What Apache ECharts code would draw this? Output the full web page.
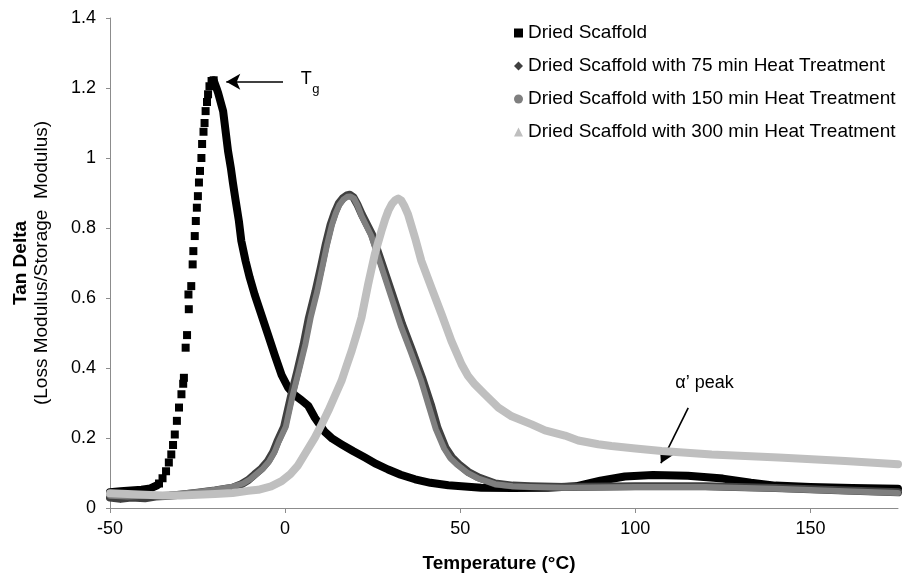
<!DOCTYPE html>
<html><head><meta charset="utf-8">
<script src="https://cdn.jsdelivr.net/npm/echarts@6/dist/echarts.min.js"></script>
<style>html,body{margin:0;padding:0;background:#fff}#c{width:904px;height:578px}</style>
</head><body><div id="c"></div>
<script>
const FONT = '"Liberation Sans", Arial, sans-serif';

// ---- axis ticks ----
const xTicks = [-50, 0, 50, 100, 150];
const yTicks = [0, 0.2, 0.4, 0.6, 0.8, 1, 1.2, 1.4];

// ---- series names ----
const names = [
  'Dried Scaffold',
  'Dried Scaffold with 75 min Heat Treatment',
  'Dried Scaffold with 150 min Heat Treatment',
  'Dried Scaffold with 300 min Heat Treatment'
];

// ---- Dried Scaffold (black squares) ----
const driedBaseline = [[-50,0.045],[-47,0.048],[-44,0.05],[-41,0.052],[-38.5,0.056],[-36.5,0.065]];
const driedRiseDots = [[-36,0.07],[-35,0.085],[-34,0.105],[-33.2,0.13],[-32.5,0.153],[-32,0.18],[-31.5,0.21],[-30.9,0.249],
  [-30.3,0.287],[-29.6,0.325],[-29.1,0.355],[-28.9,0.372],[-28.4,0.458],[-28.0,0.494],[-27.5,0.568],[-27.6,0.61],
  [-26.8,0.634],[-26.4,0.696],[-26.2,0.734],[-25.8,0.777],[-25.5,0.82],[-25.2,0.858],[-24.9,0.891],[-24.6,0.93],
  [-24.3,0.963],[-23.9,1.0],[-23.7,1.04],[-23.3,1.075],[-23.0,1.10],[-22.7,1.134],[-22.3,1.16],[-22.0,1.182],
  [-21.6,1.205],[-21.0,1.22],[-20.4,1.222]];
const driedFall = [[-20.4,1.222],[-19.6,1.2],[-19.1,1.185],[-17.7,1.134],[-17.0,1.077],[-16.3,1.02],[-15.5,0.972],[-14.9,0.929],
  [-14.1,0.877],[-13.2,0.82],[-12.5,0.763],[-11.3,0.706],[-10.1,0.658],[-8.7,0.61],[-6.8,0.553],[-4.9,0.496],
  [-2.9,0.435],[-1.0,0.38],[0.8,0.345],[2.8,0.322],[4.7,0.308],[6.6,0.292],[8.5,0.258],[11.3,0.218],[13.5,0.198],[16.1,0.182],
  [19.5,0.162],[22.8,0.144],[26,0.126],[29.4,0.11],[33,0.095],[37.1,0.082],[41.5,0.072],[46.6,0.065],[56,0.058],[65,0.057],[75,0.058],[83,0.062],[90,0.078],
  [97,0.09],[105,0.094],[115,0.092],[125,0.084],[133,0.072],[140,0.064],[150,0.06],[162,0.057],[175,0.055]];

// ---- 75 min (dark grey diamonds) ----
const heat75 = [[-50,0.03],[-47,0.026],[-44,0.03],[-40,0.028],[-37,0.033],[-33,0.035],[-30,0.038],[-25,0.044],[-20,0.05],
  [-15,0.058],[-12.5,0.068],[-10.5,0.08],[-8.7,0.096],[-6.7,0.113],[-4.9,0.134],[-3.4,0.16],[-2.2,0.19],[-0.3,0.232],[1.6,0.315],[3.5,0.391],[5.3,0.468],
  [6.8,0.544],[8.7,0.62],[10.2,0.687],[11.6,0.753],[13.0,0.81],[14.2,0.845],[15.3,0.87],[16.5,0.885],[17.6,0.893],[18.5,0.895],[19.5,0.888],[20.6,0.868],
  [21.9,0.839],[24.8,0.782],[27.7,0.696],[30.6,0.61],[33.4,0.525],[36.3,0.449],[39.1,0.372],[41.6,0.296],[43.5,0.229],
  [45.8,0.172],[47.6,0.145],[49.6,0.125],[52.3,0.103],[55.3,0.087],[60,0.07],[65,0.064],[70,0.062],[80,0.06],[100,0.062],[120,0.062],[140,0.057],
  [160,0.05],[175,0.045]];

// ---- 150 min (mid grey circles) ----
const heat150 = [[-50,0.035],[-45,0.033],[-40,0.035],[-35,0.037],[-30,0.041],[-25,0.046],[-20,0.052],[-15,0.061],
  [-12,0.07],[-10,0.082],[-8.3,0.096],[-6.3,0.113],[-4.5,0.134],[-3,0.16],[-1.8,0.19],[0.2,0.232],[2.0,0.315],[3.9,0.391],[5.8,0.468],[7.3,0.544],
  [9.2,0.62],[10.6,0.687],[12.0,0.753],[13.4,0.81],[14.5,0.843],[15.5,0.866],[16.6,0.881],[17.7,0.889],[18.7,0.89],[19.7,0.884],[20.7,0.864],[21.8,0.835],
  [24.6,0.778],[27.4,0.692],[30.2,0.606],[33.0,0.521],[35.9,0.445],[38.7,0.368],[41.0,0.292],[43.0,0.226],[45.4,0.17],
  [47.2,0.142],[49.2,0.123],[52,0.101],[55,0.085],[60,0.068],[65,0.062],[70,0.06],[80,0.058],[100,0.06],[120,0.06],[140,0.055],[160,0.048],[175,0.043]];

// ---- 300 min (light grey triangles) ----
const heat300 = [[-50,0.042],[-45,0.04],[-40,0.038],[-35,0.036],[-30,0.036],[-25,0.038],[-20,0.04],[-15,0.043],
  [-10.6,0.049],[-7.7,0.052],[-4,0.062],[-1,0.077],[1.5,0.097],[3.7,0.122],[6,0.16],[8.5,0.201],[10.5,0.24],
  [12.3,0.277],[14.2,0.32],[16.1,0.363],[17.5,0.405],[19,0.449],[20.4,0.495],[21.8,0.544],[23.7,0.639],[25.6,0.725],
  [27.5,0.791],[28.5,0.823],[29.5,0.85],[30.5,0.869],[31.5,0.88],[32.3,0.884],[33.2,0.878],[34.1,0.862],[35.1,0.839],[37.1,0.772],[38.9,0.706],[41.8,0.629],
  [44.7,0.553],[47.5,0.477],[50.4,0.41],[52.2,0.378],[54.2,0.353],[57,0.325],[60.9,0.287],[64.7,0.262],[70.4,0.239],[74.2,0.222],
  [79.9,0.207],[83.7,0.193],[89.4,0.182],[93.2,0.177],[100,0.17],[107.5,0.163],[121.8,0.153],[140.9,0.144],
  [159.9,0.134],[175,0.125]];

// ---- annotations (data coordinates) ----
const tgArrow = [[-0.6, 1.218], [-16.8, 1.218]];
const tgLabelAt = [4.5, 1.225];
const alphaArrow = [[115.1, 0.286], [107.3, 0.128]];
const alphaLabelAt = [111.4, 0.357];

const colors = ['#000000', '#404040', '#7f7f7f', '#bfbfbf'];

const chart = echarts.init(document.getElementById('c'), null, {renderer: 'canvas'});

function lineSeries(name, data, color, width, z) {
  return {
    name: name, type: 'line', data: data, showSymbol: false, symbol: 'none',
    lineStyle: {color: color, width: width, cap: 'round', join: 'round', opacity: 1},
    itemStyle: {color: color, opacity: 1}, z: z, silent: true, animation: false, smooth: false
  };
}

const option = {
  animation: false,
  backgroundColor: '#ffffff',
  textStyle: {fontFamily: FONT},
  grid: {left: 110, right: 6, top: 18, bottom: 70, containLabel: false},
  legend: {
    orient: 'vertical', left: 509, top: 18, itemWidth: 9, itemHeight: 9, itemGap: 13,
    textStyle: {fontFamily: FONT, fontSize: 19, color: '#000', lineHeight: 20},
    data: [
      {name: names[0], icon: 'rect', itemStyle: {color: colors[0], opacity: 1}},
      {name: names[1], icon: 'diamond', itemStyle: {color: colors[1], opacity: 1}},
      {name: names[2], icon: 'circle', itemStyle: {color: colors[2], opacity: 1}},
      {name: names[3], icon: 'triangle', itemStyle: {color: colors[3], opacity: 1}}
    ],
    selectedMode: false
  },
  xAxis: {
    type: 'value', min: -50, max: 175, interval: 50,
    name: 'Temperature (°C)', nameLocation: 'middle', nameGap: 46,
    nameTextStyle: {fontFamily: FONT, fontSize: 19, fontWeight: 'bold', color: '#000', padding: [0, 10, 0, 0]},
    axisLine: {show: true, onZero: false, lineStyle: {color: '#8c8c8c', width: 1}},
    axisTick: {show: true, inside: false, length: 5, lineStyle: {color: '#8c8c8c'}},
    axisLabel: {
      fontFamily: FONT, fontSize: 18, color: '#000', margin: 12, showMaxLabel: false,
      formatter: v => xTicks.indexOf(v) >= 0 ? String(v) : ''
    },
    splitLine: {show: false}
  },
  yAxis: {
    type: 'value', min: 0, max: 1.4, interval: 0.2,
    name: '{a|Tan Delta}\n{b|(Loss Modulus/Storage  Modulus)}',
    nameLocation: 'middle', nameRotate: 90, nameGap: 58,
    nameTextStyle: {
      fontFamily: FONT, color: '#000',
      rich: {
        a: {fontFamily: FONT, fontSize: 19, fontWeight: 'bold', color: '#000', lineHeight: 21},
        b: {fontFamily: FONT, fontSize: 19, color: '#000', lineHeight: 21}
      }
    },
    axisLine: {show: true, onZero: false, lineStyle: {color: '#8c8c8c', width: 1}},
    axisTick: {show: true, inside: false, length: 4, lineStyle: {color: '#8c8c8c'}},
    axisLabel: {
      fontFamily: FONT, fontSize: 18, color: '#000', margin: 14,
      formatter: v => {
        const t = yTicks.find(k => Math.abs(k - v) < 1e-9);
        return t === undefined ? '' : String(t);
      }
    },
    splitLine: {show: false}
  },
  series: [
    {
      name: names[0], type: 'scatter', data: driedRiseDots, symbol: 'rect', symbolSize: 8,
      itemStyle: {color: colors[0], opacity: 1}, z: 5, silent: true
    },
    lineSeries(names[0], driedBaseline, colors[0], 8, 5),
    Object.assign(lineSeries(names[0], driedFall, colors[0], 8, 5), {
      markLine: {
        silent: true, animation: false, symbol: ['none', 'arrow'], symbolSize: [12, 14],
        label: {show: false},
        lineStyle: {color: '#000', width: 1.6, type: 'solid'},
        data: [
          [{coord: tgArrow[0]}, {coord: tgArrow[1]}],
          [{coord: alphaArrow[0]}, {coord: alphaArrow[1]}]
        ]
      }
    }),
    lineSeries(names[1], heat75, colors[1], 8, 6),
    lineSeries(names[2], heat150, colors[2], 6, 7),
    lineSeries(names[3], heat300, colors[3], 8, 8)
  ]
};
chart.setOption(option);

const tgPx = chart.convertToPixel({gridIndex: 0}, tgLabelAt);
const alPx = chart.convertToPixel({gridIndex: 0}, alphaLabelAt);
chart.setOption({
  graphic: [
    {type: 'text', x: tgPx[0], y: tgPx[1], z: 20, silent: true,
     style: {text: 'T', fontFamily: FONT, fontSize: 18, fill: '#000', verticalAlign: 'middle', align: 'left'}},
    {type: 'text', x: tgPx[0] + 11.5, y: tgPx[1] + 10, z: 20, silent: true,
     style: {text: 'g', fontFamily: FONT, fontSize: 13, fill: '#000', verticalAlign: 'middle', align: 'left'}},
    {type: 'text', x: alPx[0], y: alPx[1], z: 20, silent: true,
     style: {text: 'α’ peak', fontFamily: FONT, fontSize: 18, fill: '#000', verticalAlign: 'middle', align: 'left'}}
  ]
});
</script>
</body></html>
